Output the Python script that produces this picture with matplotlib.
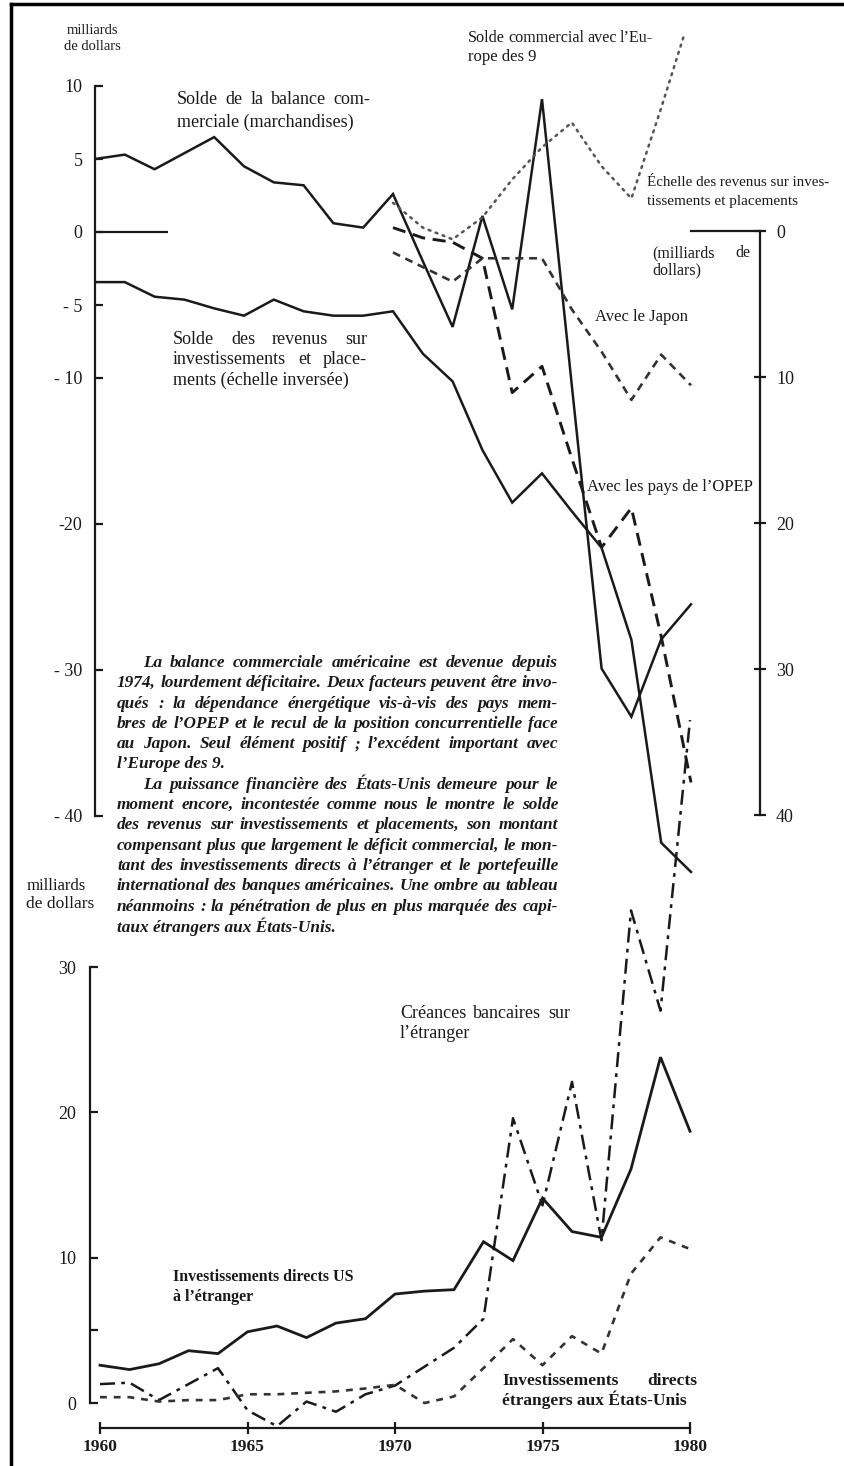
import matplotlib
matplotlib.use("Agg")
import matplotlib.pyplot as plt
from matplotlib.lines import Line2D

plt.rcParams['font.family'] = ['Liberation Serif', 'DejaVu Serif']

# ---------------- data ----------------
years = list(range(1960, 1981))
years_70 = list(range(1970, 1981))

trade_balance = [5.0, 5.3, 4.3, 5.4, 6.5, 4.5, 3.4, 3.2, 0.6, 0.3, 2.6,
                 -2.0, -6.5, 1.1, -5.3, 9.1, -10.5, -29.9, -33.2, -27.9, -25.5]
revenue_inverted = [3.5, 3.5, 4.5, 4.7, 5.3, 5.8, 4.7, 5.5, 5.8, 5.8, 5.5,
                    8.4, 10.3, 15.0, 18.6, 16.6, 19.2, 21.7, 28.0, 41.9, 43.9]
europe9 = [2.0, 0.3, -0.5, 1.0, 3.6, 5.8, 7.5, 4.5, 2.3, 8.5, 15.0]
japan = [-1.4, -2.4, -3.4, -1.8, -1.8, -1.8, -5.3, -8.2, -11.5, -8.4, -10.5]
opep = [0.3, -0.4, -0.7, -1.8, -11.0, -9.2, -15.5, -21.6, -18.9, -27.7, -37.7]

us_direct_inv = [2.6, 2.3, 2.7, 3.6, 3.4, 4.9, 5.3, 4.5, 5.5, 5.8, 7.5,
                 7.7, 7.8, 11.1, 9.8, 14.1, 11.8, 11.4, 16.1, 23.8, 18.7]
bank_claims = [1.3, 1.4, 0.2, 1.3, 2.4, -0.5, -1.6, 0.1, -0.6, 0.6, 1.2,
               2.5, 3.8, 5.8, 19.6, 13.6, 22.1, 11.2, 33.9, 27.0, 47.0]
foreign_direct_inv = [0.4, 0.4, 0.1, 0.2, 0.2, 0.6, 0.6, 0.7, 0.8, 1.0, 1.25,
                      0.0, 0.45, 2.4, 4.4, 2.6, 4.6, 3.4, 8.9, 11.4, 10.6]

top_ticks = [10, 5, 0, -5, -10, -20, -30, -40]
top_ticklabels = ['10', '5', '0', '- 5', '- 10', '-20', '- 30', '- 40']
right_ticks = [0, 10, 20, 30, 40]
bottom_ticks = [0, 5, 10, 20, 30]
bottom_ticklabels = ['0', '', '10', '20', '30']
x_ticks = [1960, 1965, 1970, 1975, 1980]

paragraph = [
    "La balance commerciale américaine est devenue depuis",
    "1974, lourdement déficitaire. Deux facteurs peuvent être invo-",
    "qués : la dépendance énergétique vis-à-vis des pays mem-",
    "bres de l\u2019OPEP et le recul de la position concurrentielle face",
    "au Japon. Seul élément positif ; l\u2019excédent important avec",
    "l\u2019Europe des 9.",
    "La puissance financière des États-Unis demeure pour le",
    "moment encore, incontestée comme nous le montre le solde",
    "des revenus sur investissements et placements, son montant",
    "compensant plus que largement le déficit commercial, le mon-",
    "tant des investissements directs à l\u2019étranger et le portefeuille",
    "international des banques américaines. Une ombre au tableau",
    "néanmoins : la pénétration de plus en plus marquée des capi-",
    "taux étrangers aux États-Unis.",
]

# ---------------- figure ----------------
W, H = 844, 1466
fig = plt.figure(figsize=(W / 100, H / 100), dpi=100)
fig.patch.set_facecolor('white')
INK = '#1a1a1a'


def fx(x):
    return x / W


def fy(y):
    return 1 - y / H


# ---------- top panel ----------
t_left, t_right, t_top, t_bot = 95, 760, 35, 889
t_y0, t_slope, t_xs = 232, 14.6, 29.8
ax = fig.add_axes([fx(t_left), fy(t_bot), (t_right - t_left) / W, (t_bot - t_top) / H])
ax.set_xlim(1960, 1960 + (t_right - t_left) / t_xs)
ax.set_ylim((t_y0 - t_bot) / t_slope, (t_y0 - t_top) / t_slope)
ax.patch.set_alpha(0)
for s in ['top', 'right', 'bottom']:
    ax.spines[s].set_visible(False)
ax.spines['left'].set_bounds(-40, 10)
ax.spines['left'].set_linewidth(1.6)
ax.spines['left'].set_color(INK)
ax.set_xticks([])
ax.set_yticks(top_ticks)
ax.set_yticklabels(top_ticklabels)
ax.tick_params(axis='y', direction='in', length=6, width=1.6, pad=9,
               labelsize=13, colors=INK)

ax2 = ax.twinx()
ax2.set_ylim((t_bot - 231) / t_slope, (t_top - 231) / t_slope)
for s in ['top', 'left', 'bottom']:
    ax2.spines[s].set_visible(False)
ax2.spines['right'].set_bounds(0, 40)
ax2.spines['right'].set_linewidth(1.6)
ax2.spines['right'].set_color(INK)
ax2.set_yticks(right_ticks)
ax2.tick_params(axis='y', direction='inout', length=9, width=1.6, pad=7,
                labelsize=13, colors=INK)
ax2.axhline(0, xmin=(1980 - 1960) / (ax.get_xlim()[1] - 1960), xmax=1,
            color=INK, lw=1.6)

# short zero reference
ax.hlines(0, 1960, 1962.45, color=INK, lw=1.6)

ax.plot(years, trade_balance, color=INK, lw=1.8, solid_joinstyle='miter')
ax2.plot(years, revenue_inverted, color=INK, lw=1.8, solid_joinstyle='miter')
ax.plot(years_70, europe9, color='#555555', lw=1.8, ls=(0, (0.8, 2.2)),
        dash_capstyle='round')
ax.plot(years_70, japan, color='#333333', lw=1.9, ls=(0, (3.0, 2.2)))
ax.plot(years_70, opep, color=INK, lw=2.1, ls=(0, (4.5, 2.6)))

# ---------- bottom panel ----------
b_left, b_right, b_top, b_bot = 90, 760, 953, 1428
b_y0, b_slope, b_xs, b_x1960 = 1403, 14.53, 29.5, 100
axb = fig.add_axes([fx(b_left), fy(b_bot), (b_right - b_left) / W, (b_bot - b_top) / H])
axb.set_xlim(1960 - (b_x1960 - b_left) / b_xs, 1960 + (b_right - b_x1960) / b_xs)
axb.set_ylim((b_y0 - b_bot) / b_slope, (b_y0 - b_top) / b_slope)
axb.patch.set_alpha(0)
for s in ['top', 'right']:
    axb.spines[s].set_visible(False)
axb.spines['left'].set_bounds(0, 30)
axb.spines['bottom'].set_bounds(1960, 1980)
for s in ['left', 'bottom']:
    axb.spines[s].set_linewidth(1.6)
    axb.spines[s].set_color(INK)
axb.set_yticks(bottom_ticks)
axb.set_yticklabels(bottom_ticklabels)
axb.set_xticks(x_ticks)
axb.tick_params(axis='y', direction='in', length=6, width=1.6, pad=10,
                labelsize=13, colors=INK)
axb.tick_params(axis='x', direction='inout', length=8, width=1.6, pad=4,
                labelsize=12.5, colors=INK)
for lab in axb.get_xticklabels():
    lab.set_fontweight('bold')

axb.plot(years, us_direct_inv, color=INK, lw=2.0, solid_joinstyle='miter')
axb.plot(years, bank_claims, color=INK, lw=1.8, ls=(0, (6, 2.5, 1.5, 2.5)),
         clip_on=False)
axb.plot(years, foreign_direct_inv, color='#333333', lw=1.9, ls=(0, (2.6, 2.6)))

# ---------- texts ----------
renderer = fig.canvas.get_renderer()


def put(x, y, s, size=10, weight='normal', style='normal', ha='left'):
    return fig.text(fx(x), fy(y), s, fontsize=size, fontweight=weight,
                    fontstyle=style, ha=ha, va='center', color=INK)


def justify(x0, x1, y, s, size=10, weight='normal', style='normal', min_gap=3.0):
    words = s.split()
    objs = [put(x0, y, w, size, weight, style) for w in words]
    n_gap = max(len(words) - 1, 1)
    while True:
        widths = [o.get_window_extent(renderer).width for o in objs]
        gap = (x1 - x0 - sum(widths)) / n_gap
        if gap >= min_gap or size < 6:
            break
        size *= 0.97
        for o in objs:
            o.set_fontsize(size)
    x = x0
    for o, w in zip(objs, widths):
        o.set_x(fx(x))
        x += w + gap


# top panel labels
put(92, 30, "milliards", 10.5, ha='center')
put(92, 47, "de dollars", 10.5, ha='center')
justify(177, 370, 100, "Solde de la balance com-", 13)
put(177, 122, "merciale (marchandises)", 13)
justify(173, 367, 340, "Solde des revenus sur", 13)
justify(173, 367, 360, "investissements et place-", 13)
put(173, 380, "ments (échelle inversée)", 13)
justify(468, 653, 38, "Solde commercial avec l\u2019Eu-", 12)
put(468, 57, "rope des 9", 12)
put(647, 183, "Échelle des revenus sur inves-", 10.8)
put(647, 202, "tissements et placements", 11)
justify(652, 750, 253, "(milliards de", 11.5)
put(652, 270, "dollars)", 11.5)
put(595, 317, "Avec le Japon", 12)
put(587, 487, "Avec les pays de l\u2019OPEP", 12)

# paragraph
p_left, p_right, p_indent, p_y0, p_dy = 117, 558, 143, 663, 20.3
for i, line in enumerate(paragraph):
    y = p_y0 + i * p_dy
    x0 = p_indent if i in (0, 6) else p_left
    if i in (5, 13):
        put(x0, y, line, 12.4, 'bold', 'italic')
    else:
        justify(x0, p_right, y, line, 12.4, 'bold', 'italic', min_gap=3.5)

# bottom panel labels
put(56, 886, "milliards", 12, ha='center')
put(60, 904, "de dollars", 12.5, ha='center')
justify(400, 570, 1013, "Créances bancaires sur", 13)
put(400, 1033, "l\u2019étranger", 13)
put(173, 1277, "Investissements directs US", 11.5, 'bold')
put(173, 1297, "à l\u2019étranger", 11.5, 'bold')
justify(502, 697, 1381, "Investissements directs", 12.5, 'bold')
put(502, 1400, "étrangers aux États-Unis", 12.5, 'bold')

# frame (left and top edges of the printed box)
fig.add_artist(Line2D([fx(11), fx(11)], [fy(4), fy(H)], color='black', lw=2.5))
fig.add_artist(Line2D([fx(11), fx(W)], [fy(4), fy(4)], color='black', lw=2.5))

fig.savefig("out.png", dpi=100, facecolor='white')
